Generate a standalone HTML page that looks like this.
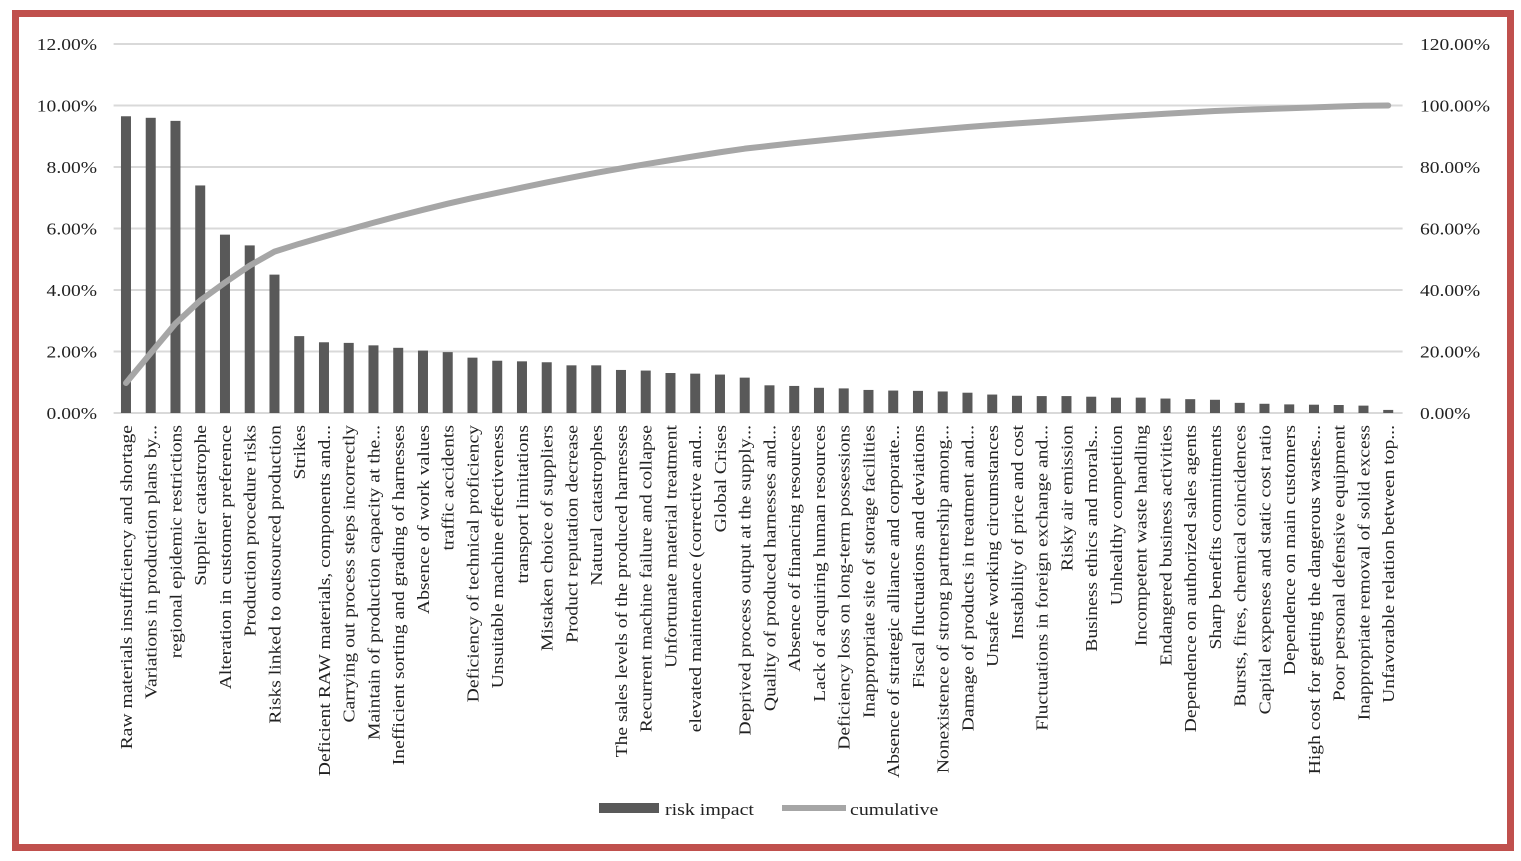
<!DOCTYPE html>
<html><head><meta charset="utf-8"><style>
html,body{margin:0;padding:0;background:#fff;}
svg text{font-family:"Liberation Serif",serif;fill:#222;}
</style></head><body>
<svg width="1521" height="856" viewBox="0 0 1521 856" xmlns="http://www.w3.org/2000/svg">
<rect x="15.5" y="13.5" width="1495" height="834" fill="#fff" stroke="#c0504d" stroke-width="7"/>
<g id="grid"></g><g id="bars"></g><g id="line"></g><g id="labels"></g>
<g>
<rect x="599" y="803" width="60" height="10" fill="#595959"/>
<text transform="translate(665,815) scale(1.17,1)" font-size="17">risk impact</text>
<line x1="782" y1="808" x2="846" y2="808" stroke="#a6a6a6" stroke-width="6"/>
<text transform="translate(850,815) scale(1.17,1)" font-size="17">cumulative</text>
</g>
</svg>
<script>
const categories = ["Raw materials insufficiency and shortage","Variations in production plans by...","regional epidemic restrictions","Supplier catastrophe","Alteration in customer preference","Production procedure risks","Risks linked to outsourced production","Strikes","Deficient RAW materials, components and...","Carrying out process steps incorrectly","Maintain of production capacity at the...","Inefficient sorting and grading of harnesses","Absence of work values","traffic accidents","Deficiency of technical proficiency","Unsuitable machine effectiveness","transport limitations","Mistaken choice of suppliers","Product reputation decrease","Natural catastrophes","The sales levels of the produced harnesses","Recurrent machine failure and collapse","Unfortunate material treatment","elevated maintenance (corrective and...","Global Crises","Deprived process output at the supply...","Quality of produced harnesses and...","Absence of financing resources","Lack of acquiring human resources","Deficiency loss on long-term possessions","Inappropriate site of storage facilities","Absence of strategic alliance and corporate...","Fiscal fluctuations and deviations","Nonexistence of strong partnership among...","Damage of products in treatment and...","Unsafe working circumstances","Instability of price and cost","Fluctuations in foreign exchange and...","Risky air emission","Business ethics and morals...","Unhealthy competition","Incompetent waste handling","Endangered business activities","Dependence on authorized sales agents","Sharp benefits commitments","Bursts, fires, chemical coincidences","Capital expenses and static cost ratio","Dependence on main customers","High cost for getting the dangerous wastes...","Poor personal defensive equipment","Inappropriate removal of solid excess","Unfavorable relation between top..."];
const riskImpact = [9.65,9.6,9.5,7.4,5.8,5.45,4.5,2.5,2.3,2.28,2.2,2.12,2.03,1.98,1.8,1.7,1.68,1.65,1.55,1.55,1.4,1.38,1.3,1.28,1.25,1.15,0.9,0.88,0.82,0.8,0.75,0.73,0.72,0.7,0.66,0.6,0.56,0.55,0.55,0.53,0.5,0.5,0.47,0.45,0.43,0.33,0.3,0.28,0.27,0.26,0.24,0.1];
const leftTicks = [0,2,4,6,8,10,12];
const rightTicks = [0,20,40,60,80,100,120];

const NS="http://www.w3.org/2000/svg";
const X0=113.6, X1=1400.6, Y0=413, Y1=44;
const band=(X1-X0)/categories.length;
const xc=i=>X0+band*(i+0.5);
const yL=v=>Y0-(v/12)*(Y0-Y1);
const yR=v=>Y0-(v/120)*(Y0-Y1);
function mk(tag,attrs,parent){const e=document.createElementNS(NS,tag);for(const k in attrs)e.setAttribute(k,attrs[k]);document.getElementById(parent).appendChild(e);return e;}

leftTicks.forEach((t,i)=>{
  const g=mk('line',{x1:X0,x2:X1+2,y1:yL(t),y2:yL(t),stroke:'#d9d9d9','stroke-width':2},'grid');
  
  
  const l=mk('text',{transform:`translate(97,${yL(t)+6}) scale(1.15,1)`,'text-anchor':'end','font-size':17},'grid');
  l.textContent=t.toFixed(2)+'%';
  
  
  const r=mk('text',{transform:`translate(1420,${yR(rightTicks[i])+6}) scale(1.15,1)`,'font-size':17},'grid');
  r.textContent=rightTicks[i].toFixed(2)+'%';
  
  
});

const total=riskImpact.reduce((a,b)=>a+b,0);
let run=0; const pts=[];
riskImpact.forEach((v,i)=>{
  const b=mk('rect',{x:xc(i)-5,y:yL(v),width:10,height:Y0-yL(v),fill:'#595959'},'bars');
  
  
  run+=v; pts.push(xc(i)+','+yR(run/total*100));
  const t=mk('text',{transform:`translate(${xc(i)+6},425) rotate(-90) scale(1.19,1)`,'text-anchor':'end','font-size':16.5},'labels');
  t.textContent=categories[i];
  
  
});
const pl=mk('polyline',{points:pts.join(' '),fill:'none',stroke:'#a6a6a6','stroke-width':6,'stroke-linejoin':'round','stroke-linecap':'round'},'line');


</script>
</body></html>
